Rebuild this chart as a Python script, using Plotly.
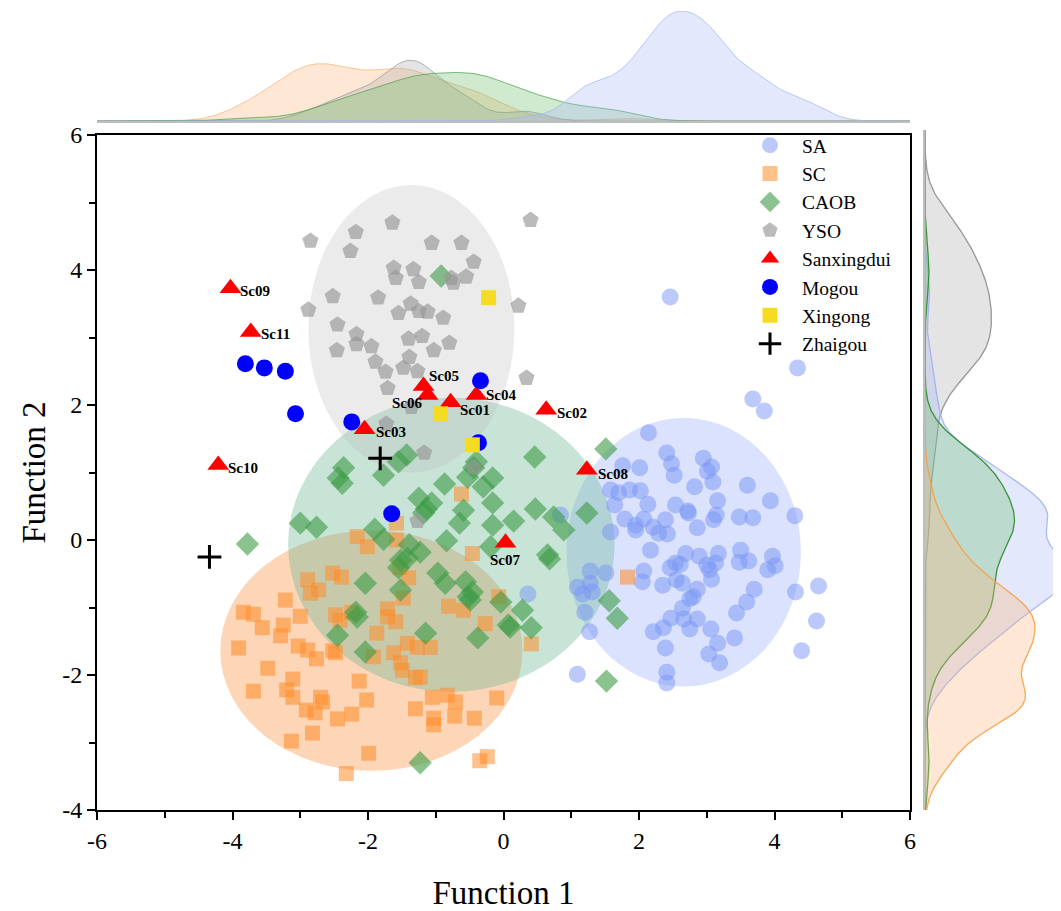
import numpy as np
import plotly.graph_objects as go

# ---------------- data ----------------
SA_X = [2.46, 4.34, 3.68, 3.85, 2.14, 2.41, 2.48, 2.52, 2.95, 3.07, 3.01, 3.09, 2.82, 3.60, 3.94, 4.30,
        1.76, 2.01, 1.58, 1.70, 1.86, 2.02, 1.64, 2.13, 2.54, 2.72, 2.73, 3.16, 3.14, 3.10, 3.48, 3.68,
        1.79, 1.95, 2.07, 2.39, 2.86, 1.58, 2.21, 2.29, 2.42, 0.84, 1.95, 2.17, 2.69, 2.89, 3.17, 3.13,
        3.00, 3.04, 3.07, 3.50, 3.48, 3.62, 3.97, 4.01, 3.90, 4.65, 4.31, 4.62, 4.40, 3.70, 3.59, 3.44,
        3.41, 3.16, 3.03, 3.19, 3.06, 2.86, 2.75, 2.66, 2.64, 2.75, 2.80, 2.86, 2.47, 2.36, 2.21, 2.39,
        2.41, 2.41, 2.46, 2.54, 2.61, 2.64, 2.55, 2.35, 2.07, 2.05, 1.28, 1.51, 1.09, 1.28, 1.31, 1.17,
        1.20, 1.27, 1.09, 0.36]
SA_Y = [3.60, 2.55, 2.09, 1.91, 1.59, 1.29, 1.13, 0.96, 1.21, 1.08, 1.02, 0.86, 0.79, 0.81, 0.58, 0.36,
        1.10, 1.07, 0.74, 0.70, 0.74, 0.73, 0.52, 0.53, 0.52, 0.43, 0.40, 0.58, 0.37, 0.30, 0.34, 0.33,
        0.31, 0.22, 0.31, 0.30, 0.18, 0.12, 0.19, 0.10, 0.09, 0.37, 0.15, -0.15, -0.20, -0.24, -0.20, -0.34,
        -0.37, -0.44, -0.58, -0.15, -0.33, -0.31, -0.24, -0.38, -0.44, -0.68, -0.77, -1.20, -1.64, -0.73, -0.92, -1.08,
        -1.45, -1.53, -1.69, -1.82, -1.32, -1.17, -1.32, -1.17, -1.01, -0.87, -0.84, -0.73, -1.16, -1.30, -1.36, -1.60,
        -1.96, -2.12, -0.41, -0.34, -0.36, -0.64, -0.59, -0.67, -0.46, -0.62, -0.46, -0.49, -0.70, -0.64, -0.77, -0.80,
        -1.07, -1.36, -1.99, -0.80]

SC_X = [-2.16, -2.01, -1.58, -0.46, -2.89, -2.85, -2.73, -2.52, -2.39, -1.53, -1.40, -1.48, -3.22, -3.84, -3.69, -3.00,
        -3.25, -3.56, -3.29, -2.48, -2.41, -2.24, -1.71, -1.71, -1.59, -0.81, -0.59, -0.07, -0.27, -1.87, -3.91, -3.03,
        -2.89, -2.76, -2.52, -2.48, -1.62, -1.52, -1.27, -1.08, -1.92, -1.49, -1.30, -3.48, -3.11, -3.69, -3.20, -3.11,
        -2.13, -2.02, -2.91, -2.70, -2.67, -2.78, -2.45, -2.24, -1.30, -1.05, -0.83, -0.71, -1.03, -1.03, -0.72, -0.43,
        -0.10, -3.13, -2.82, -1.99, -2.32, -0.35, -0.24, 0.41, -1.23, -0.62, -1.58, -1.42, 1.83]
SC_Y = [0.05, -0.10, 0.00, -0.20, -0.59, -0.79, -0.74, -0.49, -0.55, -0.41, -0.56, -0.86, -0.89, -1.07, -1.10, -1.13,
        -1.26, -1.30, -1.42, -1.11, -1.19, -1.07, -1.02, -1.14, -1.21, -0.98, -1.04, -0.84, -1.24, -1.38, -1.60, -1.57,
        -1.63, -1.76, -1.64, -1.67, -1.67, -1.82, -1.59, -1.59, -1.73, -1.93, -2.04, -1.90, -2.06, -2.24, -2.22, -2.33,
        -2.09, -2.37, -2.52, -2.33, -2.40, -2.56, -2.65, -2.58, -2.50, -2.33, -2.30, -2.40, -2.64, -2.74, -2.61, -2.64,
        -2.34, -2.98, -2.86, -3.16, -3.46, -3.27, -3.21, -1.54, -2.03, 0.68, 0.25, -1.53, -0.55]

CAOB_X = [-0.92, 1.51, 0.46, -2.36, -2.44, -2.38, -1.77, -1.43, -1.55, -0.87, -0.53, -0.40, -0.44, -0.16, -0.30, -1.25,
          -1.06, -1.14, -1.18, -0.59, -0.65, -0.16, -0.16, 0.15, 0.47, 0.74, 0.89, 1.23, -3.00, -2.76, -1.90, -1.77,
          -0.84, -1.39, -1.23, -0.19, 0.65, 0.68, 1.56, 1.68, 1.52, 0.28, 0.41, 0.07, 0.10, -0.97, -0.86, -0.56,
          -0.52, -0.49, -0.04, -1.15, -0.38, -3.78, -1.52, -1.42, -2.04, -1.52, -2.18, -2.16, -2.45, -2.04, -1.23,
          -1.55, -0.46]
CAOB_Y = [3.91, 1.35, 1.23, 1.07, 0.92, 0.84, 0.96, 1.26, 1.16, 0.83, 0.93, 1.16, 1.07, 0.92, 0.79, 0.62,
          0.55, 0.46, 0.40, 0.44, 0.25, 0.55, 0.22, 0.28, 0.46, 0.34, 0.15, 0.40, 0.25, 0.19, 0.16, 0.01,
          -0.01, -0.07, -0.18, -0.10, -0.22, -0.28, -0.90, -1.16, -2.09, -1.04, -1.30, -1.26, -1.29, -0.49, -0.64, -0.62,
          -0.84, -0.89, -0.92, -1.38, -1.45, -0.06, -0.30, -0.27, -0.64, -0.74, -1.07, -1.14, -1.41, -1.66, -3.30,
          -0.41, -0.77]

YSO_X = [-1.64, -2.18, -2.85, -2.26, -1.06, -0.62, 0.40, -0.44, -1.62, -1.33, -1.59, -1.25, -0.74, -0.55, -0.77, -2.52,
         -1.85, -2.88, -1.37, -1.25, -1.12, -1.55, -0.89, 0.22, -2.45, -2.17, -2.17, -1.95, -2.46, -1.40, -1.20, -1.03,
         -0.80, -1.89, -1.39, -1.48, -1.74, -1.27, -1.71, 0.34, -1.36, -1.73, -1.17, -0.44, -1.27]
YSO_Y = [4.70, 4.56, 4.43, 4.28, 4.40, 4.40, 4.74, 4.12, 4.03, 4.01, 3.88, 3.82, 3.81, 3.90, 3.88, 3.61,
         3.59, 3.41, 3.50, 3.39, 3.38, 3.36, 3.29, 3.47, 3.19, 3.05, 2.90, 2.87, 2.81, 2.98, 3.02, 2.81,
         2.92, 2.64, 2.71, 2.55, 2.49, 2.50, 2.25, 2.40, 1.97, 1.72, 1.29, 1.08, 0.28]

SANX_X = [-0.78, 0.63, -2.05, -0.40, -1.18, -1.12, 0.03, 1.23, -4.03, -4.21, -3.73]
SANX_Y = [2.04, 1.93, 1.64, 2.15, 2.28, 2.15, -0.04, 1.04, 3.73, 1.11, 3.08]
SANX_LABELS = ["Sc01", "Sc02", "Sc03", "Sc04", "Sc05", "Sc06", "Sc07", "Sc08", "Sc09", "Sc10", "Sc11"]

MOGOU_X = [-3.81, -3.53, -3.22, -3.07, -2.24, -0.34, -0.37, -1.65]
MOGOU_Y = [2.61, 2.55, 2.50, 1.87, 1.75, 2.36, 1.44, 0.39]

XINGONG_X = [-0.22, -0.93, -0.46]
XINGONG_Y = [3.59, 1.87, 1.41]

ZHAIGOU_X = [-1.82, -4.34]
ZHAIGOU_Y = [1.21, -0.25]

# confidence ellipses: centre x, centre y, half-width, half-height
ELLIPSE_GROUPS = ["SA", "SC", "CAOB", "YSO"]
ELLIPSE_CX = [2.66, -1.95, -0.77, -1.36]
ELLIPSE_CY = [-0.18, -1.64, -0.07, 3.13]
ELLIPSE_RX = [1.73, 2.23, 2.41, 1.52]
ELLIPSE_RY = [1.99, 1.78, 2.18, 2.13]

X_TICKS = [-6, -4, -2, 0, 2, 4, 6]
X_TICK_TEXT = ["-6", "-4", "-2", "0", "2", "4", "6"]
Y_TICKS = [-4, -2, 0, 2, 4, 6]
Y_TICK_TEXT = ["-4", "-2", "0", "2", "4", "6"]

# ---------------- styles ----------------
LABEL_ANCHOR = ["left", "left", "left", "left", "left", "right", "center", "left", "left", "left", "left"]
LABEL_DX = [7, 9, 9, 8, 3, -3, 0, 9, 8, 8, 8]
LABEL_DY = [-8, -3, -3, 0, 10, -8, -17, -4, -3, -3, -2]

MARK = {"SA": "rgba(120,150,245,0.50)", "SC": "rgba(255,140,40,0.55)",
        "CAOB": "rgba(60,155,70,0.60)", "YSO": "rgba(150,150,150,0.65)"}
ELL = {"SA": "rgba(170,188,250,0.44)", "SC": "rgba(250,165,95,0.45)",
       "CAOB": "rgba(110,185,150,0.38)", "YSO": "rgba(190,190,190,0.30)"}
KFILL = {"SA": "rgba(170,185,245,0.32)", "SC": "rgba(253,180,120,0.32)",
         "CAOB": "rgba(110,190,110,0.32)", "YSO": "rgba(170,170,170,0.32)"}
KLINE_TOP = {"SA": "rgba(160,180,245,0.7)", "SC": "rgba(250,175,110,0.7)",
             "CAOB": "rgba(70,160,70,0.7)", "YSO": "rgba(150,150,150,0.7)"}
KLINE_RIGHT = {"SA": "rgba(150,170,245,0.8)", "SC": "rgba(245,160,70,0.9)",
               "CAOB": "rgba(40,140,40,0.9)", "YSO": "rgba(140,140,140,0.9)"}
FONT = "Liberation Serif, Times New Roman, serif"

OFF = 8  # page offset of the plot div
W, H = 1061 - OFF, 911 - OFF
def px_x(p):
    return (p - OFF) / W
def px_y(p):
    return (H - (p - OFF)) / H

fig = go.Figure()

groups = {"SA": (SA_X, SA_Y), "SC": (SC_X, SC_Y), "CAOB": (CAOB_X, CAOB_Y), "YSO": (YSO_X, YSO_Y)}

for g, cx, cy, rx, ry in zip(ELLIPSE_GROUPS, ELLIPSE_CX, ELLIPSE_CY, ELLIPSE_RX, ELLIPSE_RY):
    fig.add_shape(type="circle", xref="x", yref="y", x0=cx - rx, x1=cx + rx, y0=cy - ry, y1=cy + ry,
                  fillcolor=ELL[g], line=dict(width=0), layer="below")

sym = {"SA": "circle", "SC": "square", "CAOB": "diamond", "YSO": "pentagon"}
size = {"SA": 17, "SC": 15, "CAOB": 18, "YSO": 17}
for g in ["SA", "SC", "CAOB", "YSO"]:
    xs, ys = groups[g]
    fig.add_trace(go.Scatter(x=xs, y=ys, mode="markers", name=g,
                             marker=dict(symbol=sym[g], size=size[g], color=MARK[g], line=dict(width=0)),
                             xaxis="x", yaxis="y"))

fig.add_trace(go.Scatter(x=SANX_X, y=SANX_Y, mode="markers", name="Sanxingdui",
                         marker=dict(symbol="triangle-up", size=19, color="#ff0000", line=dict(width=0)),
                         xaxis="x", yaxis="y"))
fig.add_trace(go.Scatter(x=MOGOU_X, y=MOGOU_Y, mode="markers", name="Mogou",
                         marker=dict(symbol="circle", size=17, color="#0000ff", line=dict(width=0)),
                         xaxis="x", yaxis="y"))
fig.add_trace(go.Scatter(x=XINGONG_X, y=XINGONG_Y, mode="markers", name="Xingong",
                         marker=dict(symbol="square", size=15, color="#f5dc22", line=dict(width=0)),
                         xaxis="x", yaxis="y"))
fig.add_trace(go.Scatter(x=ZHAIGOU_X, y=ZHAIGOU_Y, mode="markers", name="Zhaigou",
                         marker=dict(symbol="cross-thin", size=17, color="black",
                                     line=dict(width=3, color="black")),
                         xaxis="x", yaxis="y"))

for x, y, t, a, dx, dy in zip(SANX_X, SANX_Y, SANX_LABELS, LABEL_ANCHOR, LABEL_DX, LABEL_DY):
    fig.add_annotation(x=x, y=y, xref="x", yref="y", text="<b>%s</b>" % t, showarrow=False,
                       xanchor=a, yanchor="middle", xshift=dx, yshift=dy,
                       font=dict(family=FONT, size=15, color="black"))

# ---------------- marginal KDEs (computed from the data) ----------------
def kde(vals, grid, adjust=0.8):
    v = np.asarray(vals, float)
    bw = adjust * v.std(ddof=1) * len(v) ** (-0.2)
    d = np.exp(-0.5 * ((grid[:, None] - v[None, :]) / bw) ** 2).sum(axis=1)
    return d / (len(v) * bw * np.sqrt(2 * np.pi))

ntot = sum(len(groups[g][0]) for g in groups)
gx = np.linspace(-6, 6, 400)
gy = np.linspace(-4, 6, 400)
topmax = 0
kx = {}
ky = {}
for g in groups:
    xs, ys = groups[g]
    w = len(xs) / ntot
    kx[g] = kde(xs, gx) * w
    ky[g] = kde(ys, gy) * w
    topmax = max(topmax, kx[g].max())
rightSC = ky["SC"].max()

for g in ["SC", "YSO", "CAOB", "SA"]:
    fig.add_trace(go.Scatter(x=gx, y=kx[g], mode="lines", fill="tozeroy", fillcolor=KFILL[g],
                             line=dict(color=KLINE_TOP[g], width=1), showlegend=False,
                             hoverinfo="skip", xaxis="x2", yaxis="y2"))
for g in ["YSO", "SA", "CAOB", "SC"]:
    fig.add_trace(go.Scatter(x=ky[g], y=gy, mode="lines", fill="tozerox", fillcolor=KFILL[g],
                             line=dict(color=KLINE_RIGHT[g], width=1.3), showlegend=False,
                             hoverinfo="skip", xaxis="x3", yaxis="y3"))

main_x = [px_x(97), px_x(910)]
main_y = [px_y(810), px_y(135)]

axis_font = dict(family=FONT, size=24, color="black")
fig.update_layout(
    width=W, height=H, margin=dict(l=0, r=0, t=0, b=0),
    paper_bgcolor="white", plot_bgcolor="rgba(0,0,0,0)",
    font=dict(family=FONT, color="black"),
    xaxis=dict(domain=main_x, range=[-6, 6], tickvals=X_TICKS, ticktext=X_TICK_TEXT, ticks="outside",
               ticklen=8, tickwidth=1.5, tickcolor="black", showline=True, linecolor="black", linewidth=2,
               mirror=True, showgrid=False, zeroline=False, tickfont=axis_font,
               minor=dict(tickvals=[-5, -3, -1, 1, 3, 5], ticks="outside", ticklen=6, tickwidth=1.5,
                          tickcolor="black", showgrid=False),
               title=dict(text="Function 1", font=dict(family=FONT, size=33, color="black"), standoff=28),
               automargin=False, anchor="y"),
    yaxis=dict(domain=main_y, range=[-4, 6], tickvals=Y_TICKS, ticktext=Y_TICK_TEXT, ticks="outside",
               ticklen=8, tickwidth=1.5, tickcolor="black", showline=True, linecolor="black", linewidth=2,
               mirror=True, showgrid=False, zeroline=False, tickfont=axis_font,
               minor=dict(tickvals=[-3, -1, 1, 3, 5], ticks="outside", ticklen=6, tickwidth=1.5,
                          tickcolor="black", showgrid=False),
               title=dict(text="Function 2", font=dict(family=FONT, size=33, color="black"), standoff=7),
               automargin=False, anchor="x"),
    xaxis2=dict(domain=main_x, range=[-6, 6], showticklabels=False, ticks="", showgrid=False,
                zeroline=False, showline=True, linecolor="rgba(190,190,190,1)", linewidth=1.5, anchor="y2"),
    yaxis2=dict(domain=[px_y(121), px_y(11)], range=[0, topmax * 1.0], showticklabels=False, ticks="",
                showgrid=False, zeroline=False, showline=False, anchor="x2"),
    xaxis3=dict(domain=[px_x(925), 1.0], range=[0, rightSC * (136 / 110)], showticklabels=False, ticks="",
                showgrid=False, zeroline=False, showline=False, anchor="y3"),
    yaxis3=dict(domain=[px_y(810), px_y(130)], range=[-4, 6], showticklabels=False, ticks="",
                showgrid=False, zeroline=False, showline=True, linecolor="rgba(190,190,190,1)",
                linewidth=1.5, anchor="x3"),
    legend=dict(x=px_x(738), y=px_y(126), xanchor="left", yanchor="top", bgcolor="rgba(0,0,0,0)",
                font=dict(family=FONT, size=19.5, color="black"), borderwidth=0, itemwidth=54),
)

fig.write_html("out.html")
